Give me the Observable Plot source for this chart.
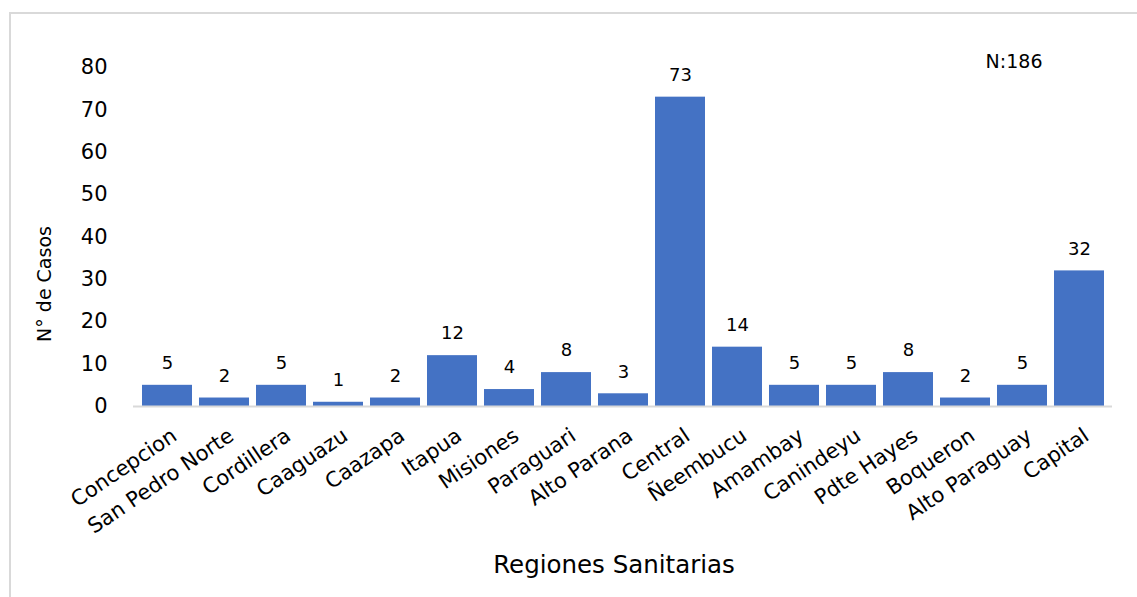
<!DOCTYPE html>
<html>
<head>
<meta charset="utf-8">
<script src="https://cdn.jsdelivr.net/npm/d3@7"></script>
<script src="https://cdn.jsdelivr.net/npm/@observablehq/plot@0.6"></script>
<style>
  html, body { margin: 0; padding: 0; background: #fff; }
  #wrap { position: relative; width: 1137px; height: 597px; overflow: hidden; }
  #frame { position: absolute; left: 9px; top: 12px; right: -5px; bottom: -5px;
           border-top: 2px solid #d9d9d9; border-left: 2px solid #d9d9d9; pointer-events: none; }
  #chart { position: absolute; left: 0; top: 0; }
</style>
</head>
<body>
<div id="wrap"><div id="chart"></div><div id="frame"></div></div>
<script>
const regiones = ["Concepcion", "San Pedro Norte", "Cordillera", "Caaguazu", "Caazapa", "Itapua", "Misiones", "Paraguari", "Alto Parana", "Central", "Ñeembucu", "Amambay", "Canindeyu", "Pdte Hayes", "Boqueron", "Alto Paraguay", "Capital"];
const casos = [5, 2, 5, 1, 2, 12, 4, 8, 3, 73, 14, 5, 5, 8, 2, 5, 32];
const yTicks = [0, 10, 20, 30, 40, 50, 60, 70, 80];
const yTitle = "N° de Casos";
const xTitle = "Regiones Sanitarias";
const note = "N:186";

const data = regiones.map((r, i) => ({region: r, casos: casos[i]}));
const font = "'DejaVu Sans', sans-serif";

const chart = Plot.plot({
  width: 1137,
  height: 597,
  marginLeft: 133,
  marginRight: 25,
  marginTop: 67,
  marginBottom: 191,
  style: {fontFamily: font, color: "#000", background: "transparent"},
  x: {domain: regiones, paddingInner: 0.13, paddingOuter: 0.065, label: null},
  y: {domain: [0, 80], label: null},
  marks: [
    Plot.axisY({ticks: yTicks, tickSize: 0, tickPadding: 26, fontSize: 21, label: null}),
    Plot.axisX({tickSize: 0, tickPadding: 27, dx: 7, tickRotate: -34, fontSize: 21, label: null}),
    Plot.barY(data, {x: "region", y: "casos", fill: "#4472C4"}),
    Plot.ruleY([0], {stroke: "#d9d9d9", strokeWidth: 2}),
    Plot.text(data, {x: "region", y: "casos", text: d => String(d.casos), dy: -22, fontSize: 18, lineAnchor: "middle", fill: "#000"}),
    Plot.text([yTitle], {frameAnchor: "left", dx: -89, dy: 47, rotate: -90, fontSize: 19, fill: "#000", textAnchor: "middle", lineAnchor: "middle"}),
    Plot.text([xTitle], {frameAnchor: "bottom", dx: -9, dy: 159, fontSize: 24.5, fill: "#000", textAnchor: "middle", lineAnchor: "middle"}),
    Plot.text([note], {frameAnchor: "top-right", dx: -70, dy: -6, fontSize: 19, fill: "#000", textAnchor: "end", lineAnchor: "middle"})
  ]
});
document.getElementById("chart").appendChild(chart);
</script>
</body>
</html>
